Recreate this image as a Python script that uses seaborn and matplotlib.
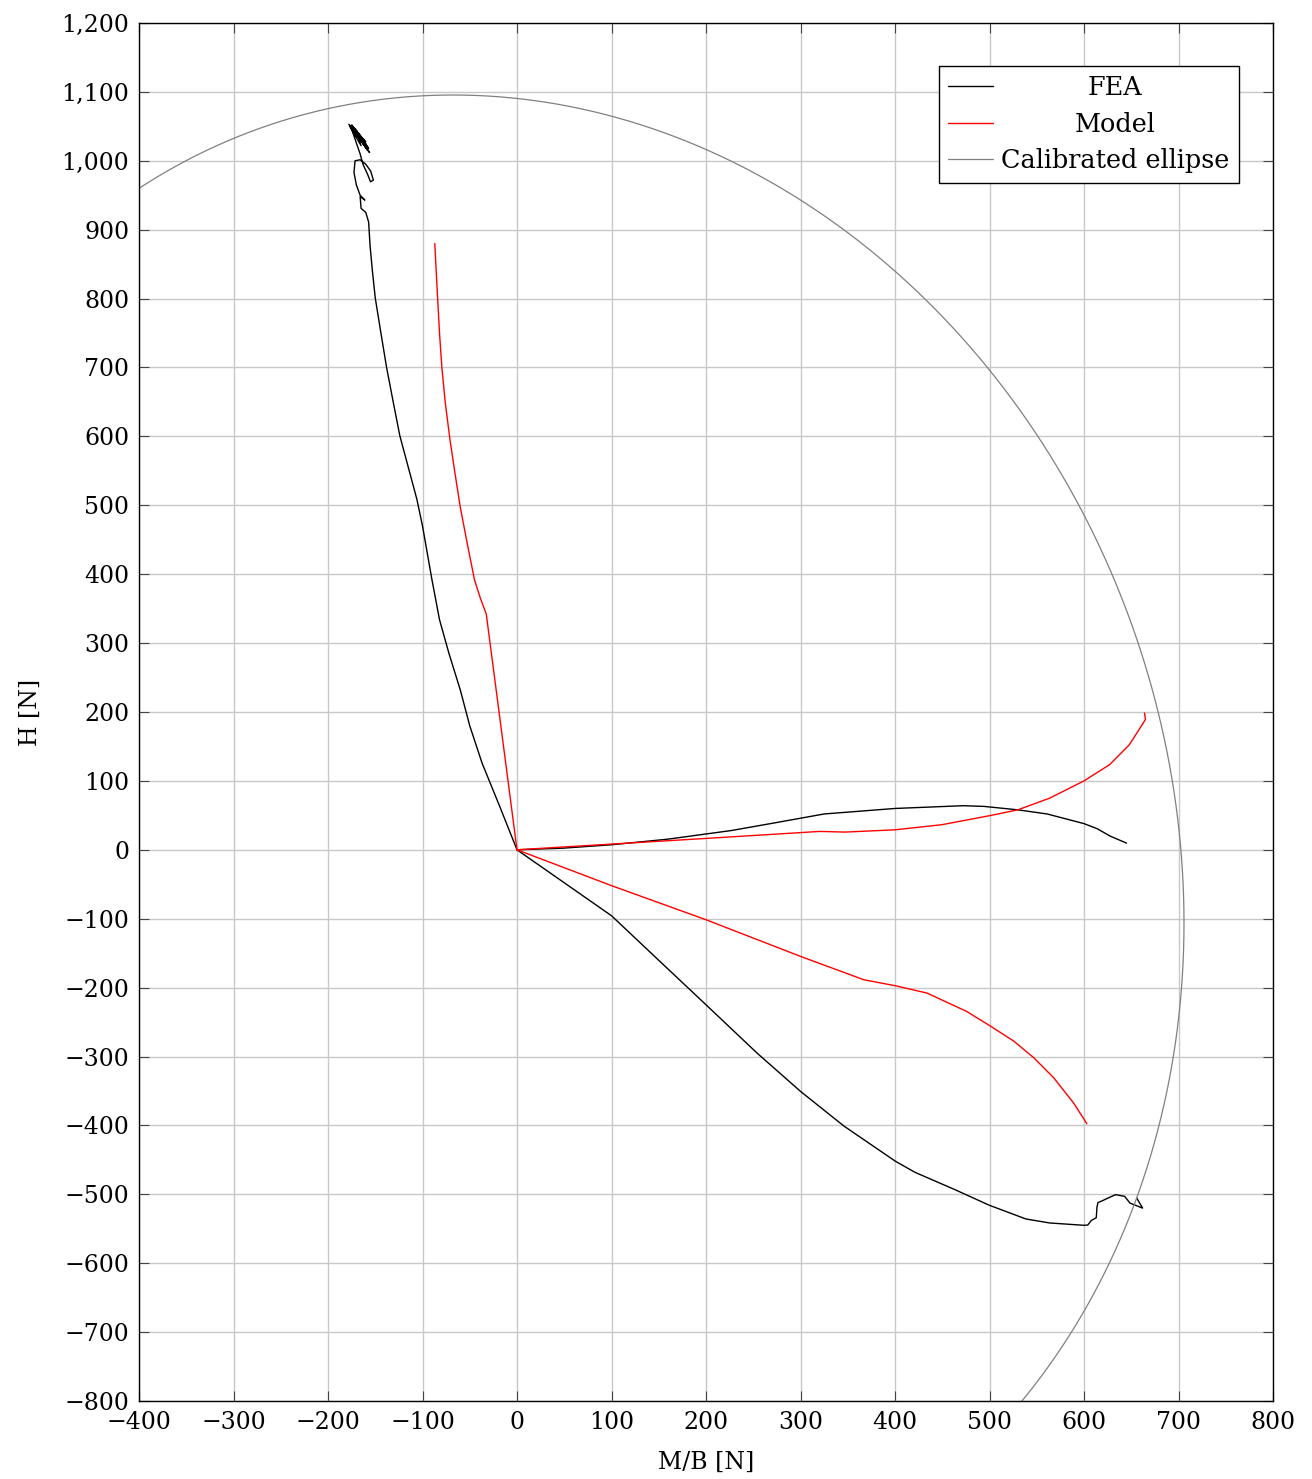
import numpy as np
import pandas as pd
import matplotlib
matplotlib.use("Agg")
import matplotlib.pyplot as plt
import seaborn as sns
from matplotlib.ticker import FuncFormatter

# ---------------- data ----------------
fea_up_M = [0, -18, -37, -50, -60, -72, -82, -90, -100, -106, -115, -124, -131, -138, -144, -150,
            -153, -155.5, -157, -160, -165, -166, -161, -166, -170, -172.5, -171.4, -166, -160,
            -154.8, -152, -155, -158, -163, -166, -176, -158, -174, -156, -178, -160, -172, -162,
            -175, -157, -170, -165, -177, -160, -173, -166]
fea_up_H = [0, 62, 126, 180, 232, 285, 334, 392, 470, 509, 555, 601, 650, 700, 750, 801,
            840, 877, 911, 925, 931, 948, 943, 950, 965, 983, 1000, 1001.5, 995,
            985, 972, 969.5, 980, 995, 1010, 1050, 1015, 1048, 1012, 1053, 1025, 1047, 1030,
            1052, 1018, 1044, 1022, 1050, 1028, 1040, 1032]

fea_mid_M = [0, 49, 100, 160, 227, 271.5, 325, 400, 472, 494, 530, 561, 600, 614, 627.5, 645]
fea_mid_H = [0, 2.4, 7.3, 15.5, 28, 38.8, 52, 60, 64, 63, 58, 52, 38, 30.6, 20, 9.7]

fea_low_M = [0, 100, 149.4, 200, 254, 300, 346, 400.4, 421, 463, 500, 538.5, 563.6, 600, 604,
             607.7, 613, 613.7, 614.8, 620, 625, 633.5, 643, 648.7, 662, 655.8]
fea_low_H = [0, -95.7, -159.6, -224.9, -295, -350.6, -401, -452, -468, -493, -516, -535.8, -541.6,
             -545, -544.6, -538, -534, -518.7, -512, -509, -505.7, -500.5, -503, -512.8, -520, -505.5]

mod_up_M = [0, -32.5, -36, -39, -45, -52, -60, -66, -71, -76, -79.5, -82, -84, -85.5, -87]
mod_up_H = [0, 342, 355, 366, 392, 440, 497, 550, 596, 650, 700, 750, 801, 840, 880]

mod_mid_M = [0, 100, 200, 320.4, 347, 400, 449.5, 500, 530, 563.7, 600, 627, 648, 665, 664]
mod_mid_H = [0, 8.3, 16.5, 26.7, 25.7, 29, 36.4, 49.5, 58, 75, 100, 123.5, 152.5, 189, 198.5]

mod_low_M = [0, 100, 200, 300, 367, 400.4, 434, 475.7, 500, 526, 547, 568, 589, 603]
mod_low_H = [0, -52, -101.5, -154.7, -188.6, -197.3, -208, -234.5, -255, -278, -302, -331, -367.5, -397.5]

# calibrated ellipse parameters (centre, semi-axes, rotation in degrees)
ell_cx, ell_cy = -5.58, -9.84
ell_a, ell_b = 1108.27, 706.80
ell_angle = -84.575

x_ticks = list(range(-400, 801, 100))
y_ticks = list(range(-800, 1201, 100))

# ellipse outline
t = np.linspace(0, 2 * np.pi, 1441)
th = np.radians(ell_angle)
ex = ell_cx + ell_a * np.cos(t) * np.cos(th) - ell_b * np.sin(t) * np.sin(th)
ey = ell_cy + ell_a * np.cos(t) * np.sin(th) + ell_b * np.sin(t) * np.cos(th)

# ---------------- style ----------------
sns.set_style("whitegrid", {"grid.color": "#c8c8c8", "axes.edgecolor": "black"})
plt.rcParams['font.family'] = ['DejaVu Serif']
plt.rcParams['mathtext.fontset'] = 'dejavuserif'
plt.rcParams['text.color'] = 'black'
plt.rcParams['axes.labelcolor'] = 'black'
plt.rcParams['xtick.color'] = 'black'
plt.rcParams['ytick.color'] = 'black'
FS = 17
LFS = 18.4

fig = plt.figure(figsize=(13.12, 14.79), dpi=100)
ax = fig.add_axes([139/1312, 1 - 1401/1479, (1273-139)/1312, (1401-23)/1479])

def seg(xs, ys, color, label=None, lw=1.0):
    df = pd.DataFrame({"M": xs, "H": ys})
    sns.lineplot(data=df, x="M", y="H", sort=False, estimator=None, color=color,
                 lw=lw, ax=ax, label=label)

seg(fea_up_M, fea_up_H, "black", "FEA")
seg(fea_mid_M, fea_mid_H, "black")
seg(fea_low_M, fea_low_H, "black")
seg(mod_up_M, mod_up_H, "red", "Model")
seg(mod_mid_M, mod_mid_H, "red")
seg(mod_low_M, mod_low_H, "red")
seg(ex, ey, "#808080", "Calibrated ellipse", lw=0.9)

ax.set_xlim(-400, 800)
ax.set_ylim(-800, 1200)
ax.set_xticks(x_ticks)
ax.set_yticks(y_ticks)
fmt = FuncFormatter(lambda v, p: f"{v:,.0f}".replace("-", "\u2212"))
ax.xaxis.set_major_formatter(fmt)
ax.yaxis.set_major_formatter(fmt)
ax.tick_params(axis="both", which="major", direction="in", length=7, width=0.8,
               color="#444444", labelcolor="black", labelsize=FS, top=True, right=True,
               bottom=True, left=True, pad=7)
ax.grid(True, color="#c8c8c8", lw=1.0)
for s in ax.spines.values():
    s.set_color("black")
    s.set_linewidth(1.0)
ax.set_xlabel("M/B [N]", fontsize=FS, labelpad=12, color="black")
ax.set_ylabel("H [N]", fontsize=FS, labelpad=14, color="black")

leg = ax.legend(loc="upper right", bbox_to_anchor=(0.970, 0.969), borderaxespad=0,
                fontsize=LFS, frameon=True, fancybox=False, edgecolor="black",
                framealpha=1, handlelength=1.76, handletextpad=0.3, labelspacing=0.45,
                borderpad=0.38)
leg.get_frame().set_linewidth(1.0)
for tx in leg.get_texts():
    tx.set_color("black")

# centre legend texts like pgfplots
fig.canvas.draw()
r = fig.canvas.get_renderer()
texts = leg.get_texts()
widths = [tx.get_window_extent(r).width for tx in texts]
mw = max(widths)
for tx, wdt in zip(texts, widths):
    tx.set_position(((mw - wdt) / 2, 0))

fig.savefig("out.png", dpi=100)
